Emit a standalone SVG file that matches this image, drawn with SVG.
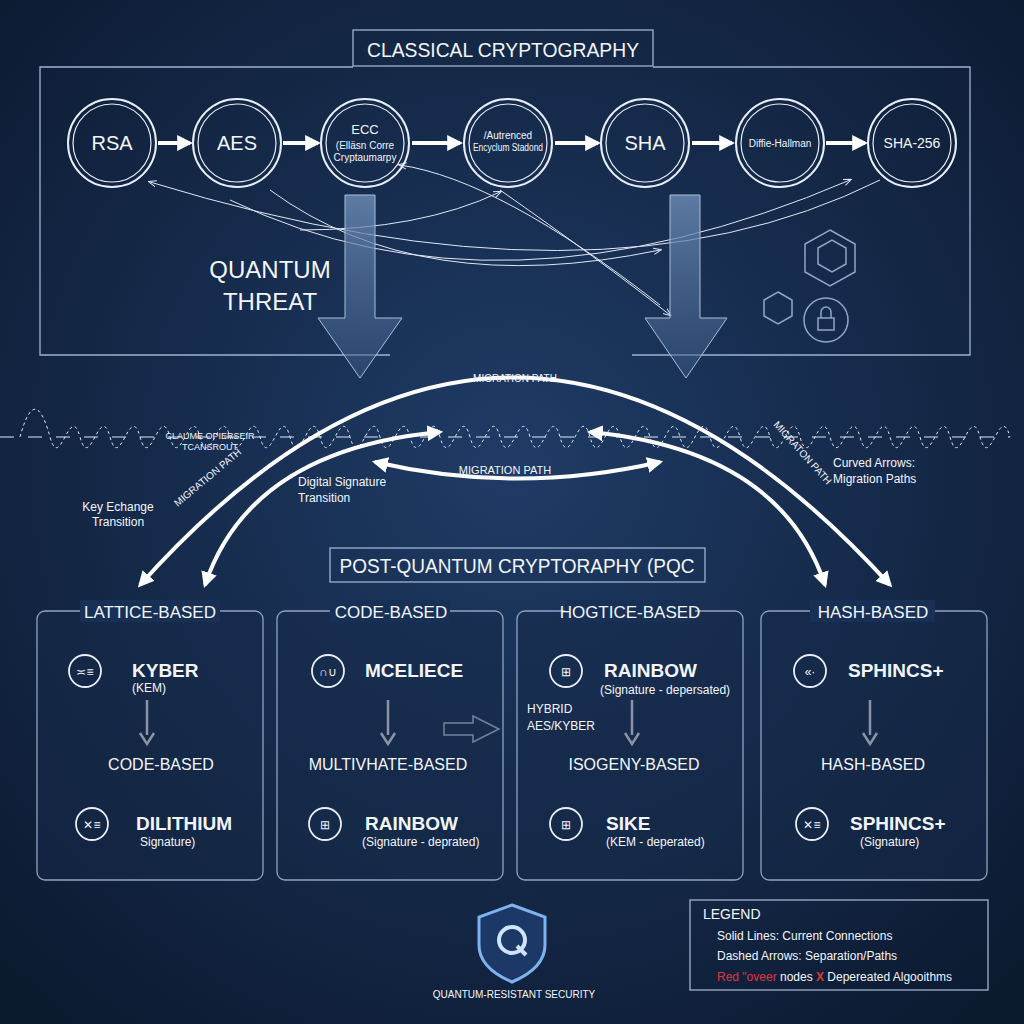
<svg xmlns="http://www.w3.org/2000/svg" width="1024" height="1024" viewBox="0 0 1024 1024">
<defs>
<radialGradient id="bg" cx="50%" cy="45%" r="70%"><stop offset="0" stop-color="#1f3b66"/><stop offset="1" stop-color="#0c1a30"/></radialGradient>
<linearGradient id="dn" x1="0" y1="0" x2="0" y2="1"><stop offset="0" stop-color="#6f8fb8" stop-opacity="0.8"/><stop offset="1" stop-color="#3b5a85" stop-opacity="0.5"/></linearGradient>
<marker id="ah" viewBox="0 0 10 10" refX="8" refY="5" markerWidth="4" markerHeight="4" orient="auto-start-reverse"><path d="M0,0L10,5L0,10z" fill="#fff"/></marker>
<marker id="ahs" viewBox="0 0 10 10" refX="8" refY="5" markerWidth="8" markerHeight="8" orient="auto-start-reverse"><path d="M0,1L10,5L0,9" fill="none" stroke="#dfe8f5" stroke-width="1.2"/></marker>
<style>
text{font-family:"Liberation Sans",Arial,sans-serif;fill:#f2f6fc}
.c1{fill:none;stroke:#e8eef8;stroke-width:2}
.c2{fill:none;stroke:#e8eef8;stroke-width:1.2}
.lbl{font-size:20px;text-anchor:middle}
.sm{font-size:10px;text-anchor:middle}
.frame{fill:none;stroke:#9fb3d0;stroke-width:1.3}
.panel{fill:#16294a;fill-opacity:.5;stroke:#8ea4c4;stroke-width:1.3}
.ph{font-size:17px;text-anchor:middle}
.alg{font-size:19px;font-weight:bold}
.sub{font-size:12px}
.mid{font-size:16px;text-anchor:middle}
.ic{fill:none;stroke:#e8eef8;stroke-width:1.8}
.arr{stroke:#fff;stroke-width:4;fill:none}
.thin{stroke:#dfe8f5;stroke-width:1;fill:none}
</style>
</defs>
<rect width="1024" height="1024" fill="url(#bg)"/>

<g id="classical-frame">
<path class="frame" d="M353,67 H40 V355 H390 M632,355 H970 V67 H653"/>
<rect x="353" y="30" width="300" height="36" class="frame" fill="none"/>
<text x="503" y="57" font-size="21" text-anchor="middle" textLength="272" lengthAdjust="spacingAndGlyphs">CLASSICAL CRYPTOGRAPHY</text>
</g>

<g id="connectors">
<g class="arr" marker-end="url(#ah)">
<line x1="158" y1="143" x2="190" y2="143"/>
<line x1="283" y1="143" x2="318" y2="143"/>
<line x1="412" y1="143" x2="460" y2="143"/>
<line x1="555" y1="143" x2="598" y2="143"/>
<line x1="692" y1="143" x2="732" y2="143"/>
<line x1="826" y1="143" x2="865" y2="143"/>
</g>
<g class="thin" marker-end="url(#ahs)">
<path d="M880,180 Q600,320 150,182"/>
<path d="M660,305 Q500,180 400,165"/>
<path d="M270,190 Q420,300 660,250"/>
<path d="M300,230 Q420,230 500,192"/>
<path d="M500,190 Q600,260 670,315"/>
<path d="M230,200 Q500,330 850,180"/>
</g>
<g id="down-arrows">
<path d="M345,195 H375 V318 H402 L360,378 L318,318 H345 Z" fill="url(#dn)" stroke="#a9bedb" stroke-width="1"/>
<path d="M670,195 H700 V318 H727 L686,378 L645,318 H670 Z" fill="url(#dn)" stroke="#a9bedb" stroke-width="1"/>
</g>
<path d="M20,437 C30,400 40,400 50,437 S70,400 80,437 S100,400 110,437 S130,400 140,437 S160,400 170,437 S190,400 200,437 S220,400 230,437 S250,400 260,437 S280,400 290,437 S310,400 320,437 S340,400 350,437 S370,400 380,437 S400,400 410,437 S430,400 440,437 S460,400 470,437 S490,400 500,437 S520,400 530,437 S550,400 560,437 S580,400 590,437 S610,400 620,437 S640,400 650,437 S670,400 680,437 S700,400 710,437 S730,400 740,437 S760,400 770,437 S790,400 800,437 S820,400 830,437 S850,400 860,437 S880,400 890,437 S910,400 920,437 S940,400 950,437 S970,400 980,437 S1000,400 1010,437" fill="none" stroke="#dfe8f5" stroke-width="1" stroke-dasharray="3,3"/>
<path d="M0,437 H1010" fill="none" stroke="#dfe8f5" stroke-width="1" stroke-dasharray="14,14"/>
<path d="M140,585 Q512,170 890,585" class="arr" stroke-width="5" marker-start="url(#ah)" marker-end="url(#ah)"/>
<path d="M205,585 Q250,450 440,432" class="arr" marker-start="url(#ah)" marker-end="url(#ah)"/>
<path d="M825,585 Q780,450 590,432" class="arr" marker-start="url(#ah)" marker-end="url(#ah)"/>
<path d="M375,462 Q517,495 660,462" class="arr" stroke-width="6" marker-start="url(#ah)" marker-end="url(#ah)"/>
<g stroke="#fff" stroke-width="2.5" fill="#fff">
<line x1="147" y1="700" x2="147" y2="735"/><path d="M140,733L147,744L154,733" fill="none"/>
<line x1="388" y1="700" x2="388" y2="735"/><path d="M381,733L388,744L395,733" fill="none"/>
<line x1="632" y1="700" x2="632" y2="735"/><path d="M625,733L632,744L639,733" fill="none"/>
<line x1="870" y1="700" x2="870" y2="735"/><path d="M863,733L870,744L877,733" fill="none"/>
</g>
<path d="M444,723 H473 V716 L499,729 L473,742 V735 H444 Z" fill="none" stroke="#cfdbec" stroke-width="1.5"/>
</g>

<g id="n-rsa"><circle cx="112" cy="143" r="44" class="c1"/><circle cx="112" cy="143" r="39" class="c2"/><text x="112" y="150" class="lbl">RSA</text></g>
<g id="n-aes"><circle cx="237" cy="143" r="44" class="c1"/><circle cx="237" cy="143" r="39" class="c2"/><text x="237" y="150" class="lbl">AES</text></g>
<g id="n-ecc"><circle cx="365" cy="143" r="44" class="c1"/><circle cx="365" cy="143" r="39" class="c2"/><text x="365" y="134" font-size="13" text-anchor="middle">ECC</text><text x="365" y="149" class="sm">(Elläsn Corre</text><text x="365" y="161" class="sm">Cryptaumarpy</text></g>
<g id="n-aesstd"><circle cx="508" cy="143" r="44" class="c1"/><circle cx="508" cy="143" r="39" class="c2"/><text x="508" y="139" class="sm">/Autrenced</text><text x="508" y="151" class="sm" textLength="70" lengthAdjust="spacingAndGlyphs">Encyclum Stadond</text></g>
<g id="n-sha"><circle cx="645" cy="143" r="44" class="c1"/><circle cx="645" cy="143" r="39" class="c2"/><text x="645" y="150" class="lbl">SHA</text></g>
<g id="n-dh"><circle cx="780" cy="143" r="44" class="c1"/><circle cx="780" cy="143" r="39" class="c2"/><text x="780" y="147" class="sm">Diffie-Hallman</text></g>
<g id="n-sha256"><circle cx="912" cy="143" r="44" class="c1"/><circle cx="912" cy="143" r="39" class="c2"/><text x="912" y="148" font-size="14" text-anchor="middle">SHA-256</text></g>

<g id="threat"><text x="270" y="278" font-size="24" text-anchor="middle">QUANTUM</text><text x="270" y="310" font-size="24" text-anchor="middle">THREAT</text></g>
<g id="deco" fill="none" stroke="#8fa6c8" stroke-width="1.5">
<path d="M830,230 L855,244 V272 L830,286 L805,272 V244 Z"/><path d="M818,248 L832,240 L846,248 V264 L832,272 L818,264 Z"/>
<path d="M778,292 L792,300 V316 L778,324 L764,316 V300 Z"/>
<circle cx="826" cy="320" r="22"/><rect x="818" y="318" width="16" height="12"/><path d="M821,318 V312 A5,5 0 0 1 831,312 V318"/>
</g>

<g id="labels">
<text x="515" y="382" font-size="10" text-anchor="middle">MIGRATION PATH</text>
<text x="210" y="439" font-size="9" text-anchor="middle">CLAUME OPIERSEIR</text>
<text x="210" y="450" font-size="9" text-anchor="middle">TCANSROUT</text>
<text x="505" y="474" font-size="11" text-anchor="middle">MIGRATION PATH</text>
<text x="298" y="486" font-size="12">Digital Signature</text><text x="298" y="502" font-size="12">Transition</text>
<text x="118" y="511" font-size="12" text-anchor="middle">Key Echange</text><text x="118" y="526" font-size="12" text-anchor="middle">Transition</text>
<text x="210" y="480" font-size="10" text-anchor="middle" transform="rotate(-40 210 480)">MIGRATION PATH</text>
<text x="800" y="455" font-size="10" text-anchor="middle" transform="rotate(48 800 455)">MIGRATON PATH</text>
<text x="833" y="467" font-size="12">Curved Arrows:</text><text x="833" y="483" font-size="12">Migration Paths</text>
</g>

<g id="pqc-title"><rect x="330" y="548" width="375" height="34" class="frame"/><text x="517" y="573" font-size="20" text-anchor="middle" textLength="355" lengthAdjust="spacingAndGlyphs">POST-QUANTUM CRYPTORAPHY (PQC</text></g>

<g id="p-lattice"><rect x="37" y="611" width="226" height="269" rx="8" class="panel"/><rect x="80" y="600" width="140" height="22" fill="#183055"/><text x="150" y="618" class="ph">LATTICE-BASED</text>
<circle cx="85" cy="671" r="16" class="ic"/><text x="85" y="676" font-size="12" text-anchor="middle">≍≡</text>
<text x="132" y="677" class="alg">KYBER</text><text x="132" y="692" class="sub">(KEM)</text>
<text x="161" y="770" class="mid">CODE-BASED</text>
<circle cx="92" cy="824" r="16" class="ic"/><text x="92" y="829" font-size="12" text-anchor="middle">✕≡</text>
<text x="136" y="830" class="alg">DILITHIUM</text><text x="140" y="846" class="sub">Signature)</text></g>

<g id="p-code"><rect x="277" y="611" width="226" height="269" rx="8" class="panel"/><rect x="330" y="600" width="120" height="22" fill="#183055"/><text x="391" y="618" class="ph">CODE-BASED</text>
<circle cx="328" cy="671" r="16" class="ic"/><text x="328" y="676" font-size="12" text-anchor="middle">∩∪</text>
<text x="365" y="677" class="alg">MCELIECE</text>
<text x="388" y="770" class="mid">MULTIVHATE-BASED</text>
<circle cx="325" cy="824" r="16" class="ic"/><text x="325" y="829" font-size="12" text-anchor="middle">⊞</text>
<text x="365" y="830" class="alg">RAINBOW</text><text x="362" y="846" class="sub">(Signature - deprated)</text></g>

<g id="p-hogtice"><rect x="517" y="611" width="226" height="269" rx="8" class="panel"/><rect x="565" y="600" width="130" height="22" fill="#183055"/><text x="630" y="618" class="ph">HOGTICE-BASED</text>
<circle cx="566" cy="671" r="16" class="ic"/><text x="566" y="676" font-size="12" text-anchor="middle">⊞</text>
<text x="604" y="677" class="alg">RAINBOW</text><text x="600" y="694" class="sub">(Signature - depersated)</text>
<text x="527" y="713" font-size="12">HYBRID</text><text x="527" y="730" font-size="12">AES/KYBER</text>
<text x="634" y="770" class="mid">ISOGENY-BASED</text>
<circle cx="566" cy="824" r="16" class="ic"/><text x="566" y="829" font-size="12" text-anchor="middle">⊞</text>
<text x="606" y="830" class="alg">SIKE</text><text x="606" y="846" class="sub">(KEM - deperated)</text></g>

<g id="p-hash"><rect x="761" y="611" width="226" height="269" rx="8" class="panel"/><rect x="810" y="600" width="125" height="22" fill="#183055"/><text x="873" y="618" class="ph">HASH-BASED</text>
<circle cx="810" cy="671" r="16" class="ic"/><text x="810" y="676" font-size="12" text-anchor="middle">«·</text>
<text x="848" y="677" class="alg">SPHINCS+</text>
<text x="873" y="770" class="mid">HASH-BASED</text>
<circle cx="812" cy="824" r="16" class="ic"/><text x="812" y="829" font-size="12" text-anchor="middle">✕≡</text>
<text x="850" y="830" class="alg">SPHINCS+</text><text x="860" y="846" class="sub">(Signature)</text></g>

<g id="shield">
<path d="M512,905 L545,917 V945 Q545,968 512,982 Q479,968 479,945 V917 Z" fill="#1b3866" stroke="#7fb2ee" stroke-width="3"/>
<circle cx="512" cy="940" r="13" fill="none" stroke="#cfe3ff" stroke-width="4"/><line x1="517" y1="946" x2="526" y2="955" stroke="#cfe3ff" stroke-width="4"/>
<text x="514" y="998" font-size="10" text-anchor="middle">QUANTUM-RESISTANT SECURITY</text>
</g>

<g id="legend"><rect x="690" y="900" width="298" height="90" class="frame" fill="#12223d"/>
<text x="703" y="919" font-size="14">LEGEND</text>
<text x="717" y="940" font-size="12">Solid Lines: Current Connections</text>
<text x="717" y="960" font-size="12">Dashed Arrows: Separation/Paths</text>
<text x="717" y="981" font-size="12"><tspan fill="#e0363b">Red "oveer</tspan> nodes <tspan fill="#e0363b" font-weight="bold">X</tspan> Depereated Algooithms</text>
</g>
</svg>
